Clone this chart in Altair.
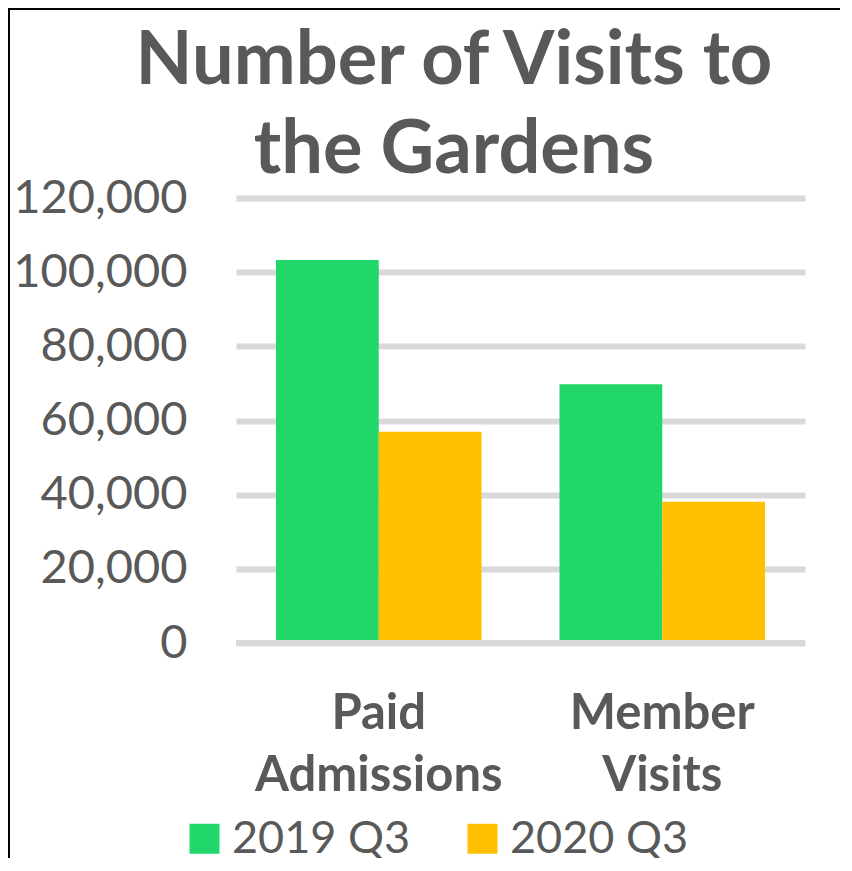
import altair as alt
import pandas as pd

title_lines = ["Number of Visits to", "the Gardens"]
categories = ["Paid Admissions", "Member Visits"]
series = ["2019 Q3", "2020 Q3"]
values_2019 = [103300, 69800]
values_2020 = [57000, 38100]
colors = ["#22D769", "#FFC000"]
y_ticks = [0, 20000, 40000, 60000, 80000, 100000, 120000]

rows = []
for i, c in enumerate(categories):
    rows.append({"category": c, "series": series[0], "visits": values_2019[i]})
    rows.append({"category": c, "series": series[1], "visits": values_2020[i]})
df = pd.DataFrame(rows)

W, H = 569, 445
PAD = {"left": 228, "top": 190, "right": 35, "bottom": 215}
FONT = "Lato"
GRAY = "#595959"
GRID = "#D9D9D9"

bars = alt.Chart(df).mark_bar().encode(
    x=alt.X(
        "category:N",
        sort=categories,
        scale=alt.Scale(paddingInner=0.275, paddingOuter=0.141),
        axis=alt.Axis(
            title=None,
            labelAngle=0,
            labelExpr="split(datum.label, ' ')",
            labelFont=FONT,
            labelFontSize=49,
            labelFontWeight="bold",
            labelColor=GRAY,
            labelLineHeight=62,
            labelBaseline="alphabetic",
            labelPadding=85,
            labelLimit=500,
            ticks=False,
            tickSize=0,
            domain=False,
            grid=False,
        ),
    ),
    xOffset=alt.XOffset("series:N", sort=series, scale=alt.Scale(paddingInner=0, paddingOuter=0)),
    y=alt.Y(
        "visits:Q",
        scale=alt.Scale(domain=[0, 120000], nice=False),
        axis=alt.Axis(
            title=None,
            values=y_ticks,
            format=",d",
            labelFont=FONT,
            labelFontSize=47,
            labelColor=GRAY,
            labelPadding=49,
            labelLimit=400,
            ticks=False,
            tickSize=0,
            domain=False,
            grid=True,
            gridColor=GRID,
            gridWidth=6,
        ),
    ),
    color=alt.Color(
        "series:N",
        sort=series,
        scale=alt.Scale(domain=series, range=colors),
        legend=alt.Legend(
            title=None,
            orient="none",
            direction="horizontal",
            legendX=-54,
            legendY=618,
            symbolType="square",
            symbolSize=900,
            symbolStrokeWidth=0,
            symbolOpacity=1,
            labelFont=FONT,
            labelFontSize=45,
            labelColor=GRAY,
            labelOffset=5,
            columnPadding=49,
            labelLimit=400,
        ),
    ),
)

zero_line = alt.Chart(alt.Data(values=[{"v": 0}])).mark_rule(
    color=GRID, strokeWidth=6
).encode(y=alt.Y("v:Q"), x=alt.value(0), x2=alt.value(W))

title = alt.Chart(alt.Data(values=[{}])).mark_text(
    font=FONT, fontSize=74, fontWeight="bold", color=GRAY,
    align="center", baseline="alphabetic", lineHeight=89,
).encode(text=alt.value(title_lines), x=alt.value(218), y=alt.value(-114))

top_border = alt.Chart(alt.Data(values=[{}])).mark_rule(
    color="#000000", strokeWidth=2
).encode(x=alt.value(-PAD["left"]), x2=alt.value(W + PAD["right"]), y=alt.value(-PAD["top"] + 1))

left_border = alt.Chart(alt.Data(values=[{}])).mark_rule(
    color="#000000", strokeWidth=2
).encode(x=alt.value(-PAD["left"] + 1), y=alt.value(-PAD["top"]), y2=alt.value(H + PAD["bottom"]))

chart = alt.layer(bars, zero_line, title, top_border, left_border).properties(
    width=W,
    height=H,
    padding=PAD,
    autosize=alt.AutoSizeParams(type="none"),
    view=alt.ViewBackground(strokeOpacity=0, strokeWidth=0),
).configure_view(strokeOpacity=0, strokeWidth=0).configure(background="white")

chart.save("out.html", embed_options={"renderer": "svg", "actions": False})
